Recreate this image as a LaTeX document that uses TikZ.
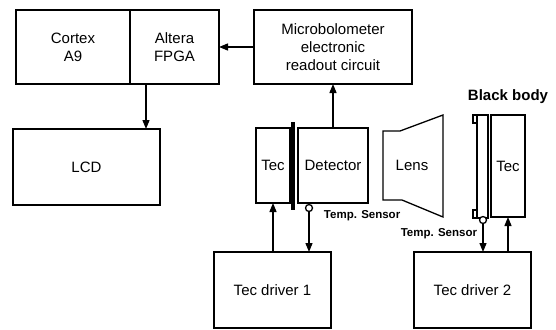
\documentclass[tikz,border=0pt]{standalone}
\usepackage{fontspec}
\setmainfont{Liberation Sans}
\usetikzlibrary{arrows.meta, positioning}

\begin{document}
\begin{tikzpicture}[x=1pt, y=-1pt, >={Triangle[length=9pt,width=7pt]}, line width=1.3pt,
    every node/.style={font=\fontsize{15}{18}\selectfont},
    box/.style={draw, rectangle, outer sep=0pt, inner sep=1pt, align=center},
    sensor/.style={draw, circle, fill=white, minimum size=7pt, inner sep=0pt, outer sep=0pt},
    small label/.style={font=\fontsize{11.5}{13}\selectfont\bfseries}]
    \useasboundingbox (0,0) rectangle (556,329);
    % processing
    \node[box, minimum width=114pt, minimum height=74pt] (cortex) at (73,47) {Cortex\\A9};
    \node[box, minimum width=89pt, minimum height=74pt, right=0pt of cortex] (fpga) {Altera\\FPGA};
    \node[box, minimum width=158pt, minimum height=74pt, right=35pt of fpga] (micro) {Microbolometer\\electronic\\readout circuit};
    \node[box, minimum width=147pt, minimum height=76pt] (lcd) at (86.5,167) {LCD};
    % camera side
    \node[box, minimum width=34pt, minimum height=75pt] (tec1) at (273,165.5) {Tec};
    \node[box, minimum width=70pt, minimum height=75pt, right=8pt of tec1] (det) {Detector};
    \node[fill=black, minimum width=3.5pt, minimum height=88pt, inner sep=0pt] (bar1) at (293,166) {};
    \node[sensor] (sen1) at (309,208) {};
    \node[small label, anchor=west] (lab1) at (320,216) {Temp. Sensor};
    \node[box, minimum width=117pt, minimum height=76pt] (drv1) at (272.5,290) {Tec driver 1};
    % lens
    \draw (383,131) -- (400,131) -- (443,115) -- (443,217) -- (402,200) -- (383,200) -- cycle;
    \node (lens) at (412,165) {Lens};
    % black body side
    \node[font=\fontsize{15}{18}\selectfont\bfseries] (bblab) at (508,97) {Black body};
    \node[box, minimum width=11pt, minimum height=103pt] (plate) at (482.5,166.5) {};
    \node[box, minimum width=4pt, minimum height=8pt, left=0pt of plate.north west, anchor=north east] (tab1) {};
    \node[box, minimum width=4pt, minimum height=8pt, left=0pt of plate.south west, anchor=south east] (tab2) {};
    \node[box, minimum width=34pt, minimum height=102pt] (tec2) at (508,166) {Tec};
    \node[sensor] (sen2) at (483,220) {};
    \node[small label, anchor=east] (lab2) at (481,234) {Temp. Sensor};
    \node[box, minimum width=117pt, minimum height=76pt] (drv2) at (472.5,290) {Tec driver 2};
    % connections
    \draw[->] (micro) -- (fpga);
    \draw[->] ([xshift=16pt]fpga.south west) -- ([xshift=16pt]fpga.south west |- lcd.north);
    \draw[->] (det) -- (micro);
    \draw[->] (drv1.north -| tec1) -- (tec1.south);
    \draw[->] (sen1.south) -- (sen1 |- drv1.north);
    \draw[->] (sen2.south) -- (sen2 |- drv2.north);
    \draw[->] (drv2.north -| tec2) -- (tec2.south);
\end{tikzpicture}
\end{document}
